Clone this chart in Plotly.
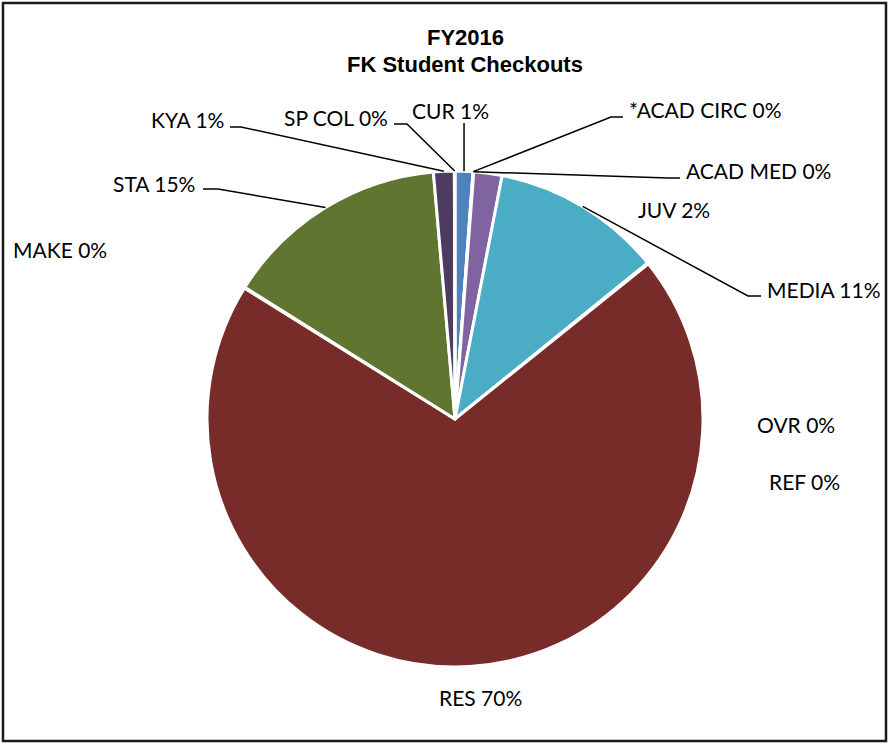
import numpy as np
import plotly.graph_objects as go

# ---------------- data ----------------
categories = ["CUR", "*ACAD CIRC", "ACAD MED", "JUV", "MEDIA", "OVR", "REF",
              "RES", "MAKE", "STA", "KYA", "SP COL"]
checkouts = [120, 2, 3, 190, 1150, 3, 4, 7200, 5, 1520, 140, 4]
slice_colors = ["#4F81BD", "#C0504D", "#9BBB59", "#8064A2", "#4BACC6", "#F79646",
                "#2C4D75", "#772C2A", "#B65708", "#5F7530", "#4D3B62", "#729ACA"]
title_lines = ["FY2016", "FK Student Checkouts"]

# ---------------- layout constants (pixels) ----------------
W, H = 889, 744
CX, CY, R = 455, 419, 248

# label placement: text anchor point, anchor side, optional leader (elbow, end)
label_layout = {
    "CUR":        dict(x=450, y=111, xa="center", elbow=None, end="vertical", end_y=123),
    "*ACAD CIRC": dict(x=627, y=110, xa="left", elbow=(611, 117), end=(623, 117)),
    "ACAD MED":   dict(x=684, y=170, xa="left", elbow=(668, 178), end=(680, 178)),
    "JUV":        dict(x=636, y=210, xa="left"),
    "MEDIA":      dict(x=765, y=289, xa="left", elbow=(748, 296), end=(761, 296)),
    "OVR":        dict(x=755, y=424, xa="left"),
    "REF":        dict(x=767, y=481, xa="left"),
    "RES":        dict(x=480, y=697, xa="center"),
    "MAKE":       dict(x=11, y=250, xa="left"),
    "STA":        dict(x=197, y=183, xa="right", elbow=(218, 189), end=(203, 189)),
    "KYA":        dict(x=226, y=120, xa="right", elbow=(241, 127), end=(230, 127)),
    "SP COL":     dict(x=390, y=118, xa="right", elbow=(407, 124), end=(394, 124)),
}


def px(x):
    return x / W


def py(y):
    return 1 - y / H


vals = np.array(checkouts, dtype=float)
frac = vals / vals.sum()
cum = np.cumsum(frac)
mid = (cum - frac / 2) * 2 * np.pi  # clockwise from 12 o'clock
pct = np.round(frac * 100).astype(int)

fig = go.Figure(go.Pie(
    labels=categories,
    values=checkouts,
    sort=False,
    direction="clockwise",
    rotation=0,
    textinfo="none",
    hoverinfo="label+percent",
    marker=dict(colors=slice_colors, line=dict(color="white", width=3)),
    domain=dict(x=[px(CX - R), px(CX + R)], y=[py(CY + R), py(CY - R)]),
    showlegend=False,
))

annotations = []
shapes = []
for i, cat in enumerate(categories):
    L = label_layout[cat]
    annotations.append(dict(
        x=px(L["x"]), y=py(L["y"]), xref="paper", yref="paper",
        text=f"{cat} {pct[i]}%", showarrow=False,
        xanchor=L["xa"], yanchor="middle",
        font=dict(family="Lato, Carlito, Calibri, sans-serif", size=21, color="black"),
    ))
    ex = CX + R * np.sin(mid[i])
    ey = CY - R * np.cos(mid[i])
    if L.get("end") == "vertical":
        path = f"M {px(ex)} {py(ey)} L {px(ex)} {py(L['end_y'])}"
        shapes.append(dict(type="path", path=path, xref="paper", yref="paper",
                           line=dict(color="black", width=1.5)))
    elif L.get("end") is not None:
        bx, by = L["elbow"]
        tx, ty = L["end"]
        path = (f"M {px(ex)} {py(ey)} L {px(bx)} {py(by)} L {px(tx)} {py(ty)}")
        shapes.append(dict(type="path", path=path, xref="paper", yref="paper",
                           line=dict(color="black", width=1.5)))

# title as two lines
for txt, ty in zip(title_lines, [38, 64]):
    annotations.append(dict(
        x=px(465), y=py(ty), xref="paper", yref="paper", text=f"<b>{txt}</b>",
        showarrow=False, xanchor="center", yanchor="middle",
        font=dict(family="Liberation Sans, Arial, sans-serif", size=22, color="black"),
    ))

# chart border
shapes.append(dict(type="rect", xref="paper", yref="paper",
                   x0=px(3), x1=px(886), y0=py(741), y1=py(3),
                   line=dict(color="#1a1a1a", width=2.5)))

fig.update_layout(
    width=W, height=H,
    margin=dict(l=0, r=0, t=0, b=0),
    paper_bgcolor="white",
    plot_bgcolor="white",
    annotations=annotations,
    shapes=shapes,
)

fig.write_html("out.html", config={"displayModeBar": False},
               post_script="document.body.style.margin='0px';")
